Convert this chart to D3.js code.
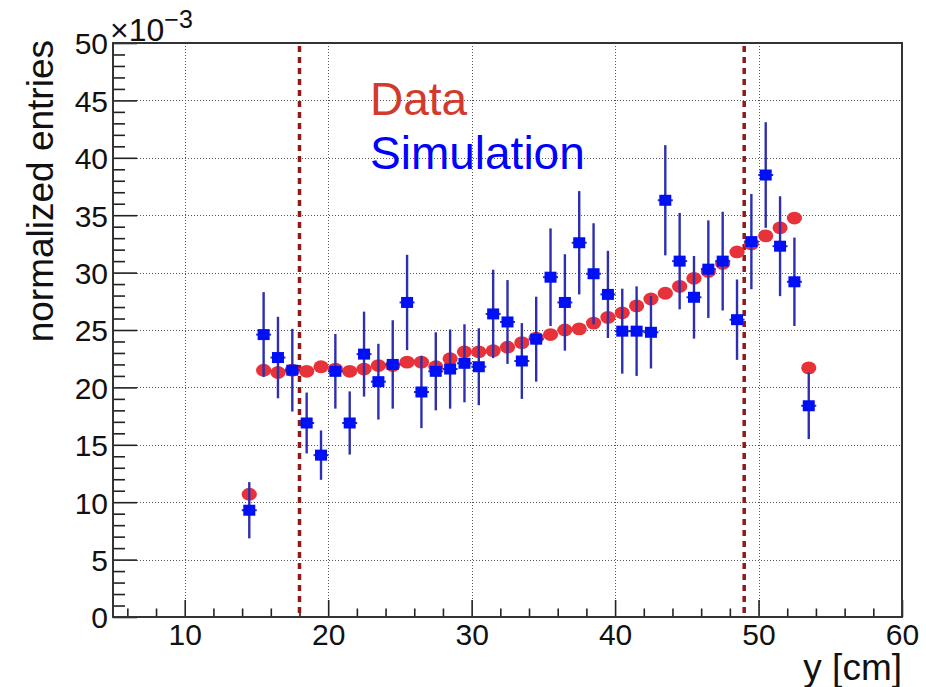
<!DOCTYPE html>
<html>
<head>
<meta charset="utf-8">
<script src="https://cdn.jsdelivr.net/npm/d3@7"></script>
<style>
  body { margin: 0; background: #fff; }
  svg { display: block; font-family: "Liberation Sans", Arial, Helvetica, sans-serif; }
</style>
</head>
<body>
<svg id="chart" width="926" height="687"></svg>
<script>
// bin centres (cm)
const binCenters = [14.5, 15.5, 16.5, 17.5, 18.5, 19.5, 20.5, 21.5, 22.5, 23.5,
  24.5, 25.5, 26.5, 27.5, 28.5, 29.5, 30.5, 31.5, 32.5, 33.5,
  34.5, 35.5, 36.5, 37.5, 38.5, 39.5, 40.5, 41.5, 42.5, 43.5,
  44.5, 45.5, 46.5, 47.5, 48.5, 49.5, 50.5, 51.5, 52.5, 53.5];

// normalized entries, x10^-3
const dataValues = [10.7, 21.5, 21.3, 21.5, 21.4, 21.8, 21.6, 21.4, 21.6, 21.9,
  21.9, 22.2, 22.2, 21.8, 22.5, 23.1, 23.1, 23.2, 23.5, 23.9,
  24.3, 24.6, 25.0, 25.1, 25.6, 26.1, 26.5, 27.1, 27.7, 28.2,
  28.8, 29.5, 30.1, 30.8, 31.8, 32.5, 33.2, 33.9, 34.75, 21.7];

const simValues = [9.3, 24.6, 22.6, 21.5, 16.9, 14.1, 21.4, 16.9, 22.9, 20.5,
  22.0, 27.4, 19.6, 21.4, 21.6, 22.1, 21.8, 26.4, 25.7, 22.3,
  24.2, 29.6, 27.4, 32.6, 29.9, 28.1, 24.9, 24.9, 24.8, 36.3,
  31.0, 27.85, 30.3, 31.0, 25.9, 32.7, 38.5, 32.3, 29.2, 18.4];

const simErrors = [2.45, 3.7, 3.55, 3.6, 2.65, 2.15, 3.25, 2.75, 3.7, 3.3,
  3.85, 4.15, 3.15, 3.4, 3.45, 3.4, 3.35, 3.85, 3.65, 3.3,
  3.7, 4.25, 4.2, 4.5, 4.4, 3.8, 3.7, 3.9, 3.15, 4.8,
  4.2, 3.6, 4.25, 4.3, 3.5, 4.15, 4.6, 4.35, 3.85, 2.9];

const cutLines = [18, 49];
const xMajorTicks = [10, 20, 30, 40, 50, 60];
const yMajorTicks = [0, 5, 10, 15, 20, 25, 30, 35, 40, 45, 50];

const frame = { left: 113, right: 902, top: 43, bottom: 617 };

const svg = d3.select("#chart");

const x = d3.scaleLinear().domain([5, 60]).range([frame.left, frame.right]);
const y = d3.scaleLinear().domain([0, 50]).range([frame.bottom, frame.top]);

const xMinor = d3.range(6, 60, 2).filter(v => v % 10 !== 0);
const yMinor = d3.range(1, 50, 1).filter(v => v % 5 !== 0);

// grid
const grid = svg.append("g")
    .attr("stroke", "#555")
    .attr("stroke-width", 1)
    .attr("stroke-dasharray", "1,2");
grid.selectAll(".gx")
    .data(xMajorTicks.filter(v => v < 60))
    .enter().append("line")
    .attr("x1", d => Math.round(x(d)) + 0.5).attr("x2", d => Math.round(x(d)) + 0.5)
    .attr("y1", frame.top).attr("y2", frame.bottom);
grid.selectAll(".gy")
    .data(yMajorTicks.filter(v => v > 0 && v < 50))
    .enter().append("line")
    .attr("y1", d => Math.round(y(d)) + 0.5).attr("y2", d => Math.round(y(d)) + 0.5)
    .attr("x1", frame.left).attr("x2", frame.right);

// axes
const xAxis = svg.append("g")
    .attr("transform", `translate(0,${ frame.bottom })`)
    .call(d3.axisBottom(x).tickValues(xMajorTicks).tickSizeInner(-17).tickSizeOuter(0).tickPadding(8));
const xAxisMinor = svg.append("g")
    .attr("transform", `translate(0,${ frame.bottom })`)
    .call(d3.axisBottom(x).tickValues(xMinor).tickFormat("").tickSizeInner(-8.5).tickSizeOuter(0));
const yAxis = svg.append("g")
    .attr("transform", `translate(${ frame.left },0)`)
    .call(d3.axisLeft(y).tickValues(yMajorTicks).tickSizeInner(-24).tickSizeOuter(0).tickPadding(5));
const yAxisMinor = svg.append("g")
    .attr("transform", `translate(${ frame.left },0)`)
    .call(d3.axisLeft(y).tickValues(yMinor).tickFormat("").tickSizeInner(-12).tickSizeOuter(0));

[xAxis, xAxisMinor, yAxis, yAxisMinor].forEach(ax => {
    ax.select(".domain").remove();
    ax.selectAll(".tick line").attr("stroke", "#222").attr("stroke-width", 1.6);
    ax.selectAll("text")
        .attr("fill", "#111")
        .attr("font-size", "30px")
        .attr("font-family", "\"Liberation Sans\", Arial, sans-serif");
});
xAxis.selectAll("text").attr("dy", "0.68em");
yAxis.selectAll("text").attr("dy", "0.36em");

// frame
svg.append("rect")
    .attr("x", frame.left).attr("y", frame.top)
    .attr("width", frame.right - frame.left).attr("height", frame.bottom - frame.top)
    .attr("fill", "none").attr("stroke", "#333").attr("stroke-width", 2);

// cut lines
svg.selectAll(".cut")
    .data(cutLines)
    .enter().append("line")
    .attr("x1", d => x(d)).attr("x2", d => x(d))
    .attr("y1", frame.top + 3).attr("y2", frame.bottom)
    .attr("stroke", "#8f1a1a")
    .attr("stroke-width", 3.5)
    .attr("stroke-dasharray", "6,5");

// data markers (red)
svg.append("g").selectAll("ellipse")
    .data(binCenters.map((c, i) => ({ c, v: dataValues[i] })))
    .enter().append("ellipse")
    .attr("cx", d => x(d.c)).attr("cy", d => y(d.v))
    .attr("rx", 7.6).attr("ry", 6.4)
    .attr("fill", "#e8323a");

// simulation markers with error bars (blue)
const sim = binCenters.map((c, i) => ({ c, v: simValues[i], e: simErrors[i] }));
const simG = svg.append("g");
simG.selectAll(".err")
    .data(sim)
    .enter().append("line")
    .attr("x1", d => x(d.c)).attr("x2", d => x(d.c))
    .attr("y1", d => y(d.v + d.e)).attr("y2", d => y(d.v - d.e))
    .attr("stroke", "#2e2eb0").attr("stroke-width", 2.4);
simG.selectAll(".xerr")
    .data(sim)
    .enter().append("line")
    .attr("x1", d => x(d.c) - 7.5).attr("x2", d => x(d.c) + 7.5)
    .attr("y1", d => y(d.v)).attr("y2", d => y(d.v))
    .attr("stroke", "#2e2eb0").attr("stroke-width", 2);
simG.selectAll("rect")
    .data(sim)
    .enter().append("rect")
    .attr("x", d => x(d.c) - 6).attr("y", d => y(d.v) - 5.5)
    .attr("width", 12).attr("height", 11)
    .attr("fill", "#0010f5");

// legend
svg.append("text")
    .attr("x", 370).attr("y", 115)
    .attr("font-size", "46px").attr("fill", "#d23a2c")
    .text("Data");
svg.append("text")
    .attr("x", 370).attr("y", 169)
    .attr("font-size", "46px").attr("fill", "#0000ff")
    .text("Simulation");

// axis titles
svg.append("text")
    .attr("transform", "translate(53, 40) rotate(-90)")
    .attr("text-anchor", "end")
    .attr("font-size", "37px").attr("fill", "#111")
    .text("normalized entries");
svg.append("text")
    .attr("x", frame.right).attr("y", 680)
    .attr("text-anchor", "end")
    .attr("font-size", "37px").attr("fill", "#111")
    .text("y [cm]");

// exponent
const expo = svg.append("text")
    .attr("x", 110).attr("y", 41)
    .attr("font-size", "32px").attr("fill", "#111");
expo.append("tspan").text("×10");
expo.append("tspan").attr("font-size", "25px").attr("dy", -13).text("−3");
</script>
</body>
</html>
